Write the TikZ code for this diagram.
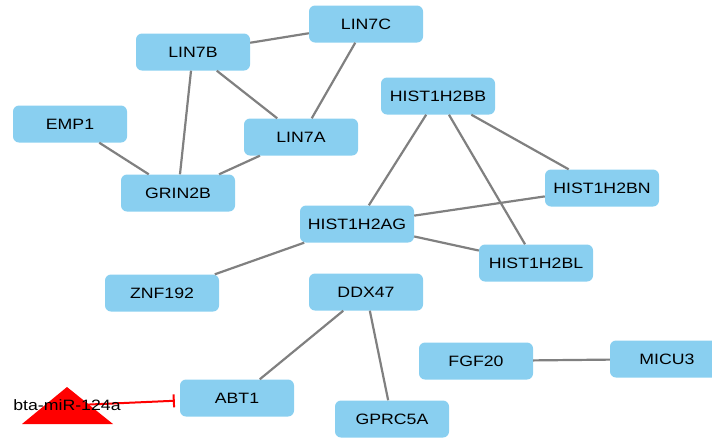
\documentclass[tikz,border=0pt]{standalone}
\usepackage{fontspec}
\setmainfont{Liberation Sans}[FakeStretch=1.18]
\usepackage{xcolor}
\usetikzlibrary{arrows.meta}
\definecolor{genefill}{RGB}{137,207,240}
\definecolor{edgegray}{RGB}{128,128,128}

\begin{document}
\begin{tikzpicture}[x=1pt,y=-1pt,font=\fontsize{15}{18}\selectfont]
  \tikzstyle{gene}=[rectangle,rounded corners=6pt,fill=genefill,
    minimum width=114pt,minimum height=37pt,inner sep=0pt]
  \tikzstyle{ppi}=[draw=edgegray,line width=2.2pt]
  \useasboundingbox (0,0) rectangle (712,437);

  \node[gene](LIN7C) at (366,24){LIN7C};
  \node[gene](LIN7B) at (193,52){LIN7B};
  \node[gene](EMP1) at (70,124){EMP1};
  \node[gene](LIN7A) at (301,137){LIN7A};
  \node[gene](GRIN2B) at (178,193){GRIN2B};
  \node[gene](HIST1H2BB) at (438,96){HIST1H2BB};
  \node[gene](HIST1H2BN) at (602,188){HIST1H2BN};
  \node[gene](HIST1H2AG) at (357,224){HIST1H2AG};
  \node[gene](HIST1H2BL) at (536,263){HIST1H2BL};
  \node[gene](ZNF192) at (162,293){ZNF192};
  \node[gene](DDX47) at (366,292){DDX47};
  \node[gene](FGF20) at (476,361){FGF20};
  \node[gene](MICU3) at (667,359){MICU3};
  \node[gene](ABT1) at (237,398){ABT1};
  \node[gene](GPRC5A) at (392,419){GPRC5A};

  % miRNA
  \coordinate (mir) at (67,405.5);
  \fill[red] (22,424) -- (67,387) -- (113,424) -- cycle;

  \path[ppi]
  (LIN7B) edge (LIN7C)
          edge (LIN7A)
          edge (GRIN2B)
  (LIN7C) edge (LIN7A)
  (EMP1)  edge (GRIN2B)
  (LIN7A) edge (GRIN2B)
  (HIST1H2BB) edge (HIST1H2AG)
              edge (HIST1H2BN)
              edge (HIST1H2BL)
  (HIST1H2AG) edge (HIST1H2BN)
              edge (HIST1H2BL)
              edge (ZNF192)
  (DDX47) edge (ABT1)
          edge (GPRC5A)
  (FGF20) edge (MICU3);

  \draw[red,line width=2pt,shorten >=5pt,-{Bar[width=13pt]}] (mir) -- (ABT1);
  \node[inner sep=0pt](mirlabel) at (mir){bta-miR-124a};
\end{tikzpicture}
\end{document}
